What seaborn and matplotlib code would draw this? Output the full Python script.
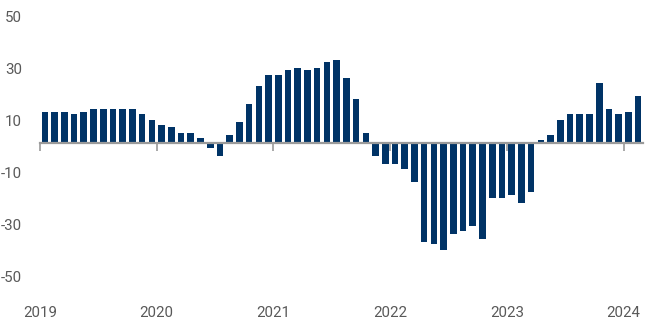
"""plot.py"""

import matplotlib

matplotlib.use("Agg")
import matplotlib.pyplot as plt
import matplotlib.transforms as mtransforms
import pandas as pd
import seaborn as sns

# monthly values, Jan 2019 .. Feb 2024
values = [
    12, 12, 12, 11, 12, 13, 13, 13, 13, 13, 11, 9,
    7, 6, 4, 4, 2, -2, -5, 3, 8, 15, 22, 26,
    26, 28, 29, 28, 29, 31, 32, 25, 17, 4, -5, -8,
    -8, -10, -15, -38, -39, -41, -35, -34, -32, -37, -21, -21,
    -20, -23, -19, 1, 3, 9, 11, 11, 11, 23, 13, 11,
    12, 18,
]
year_labels = ["2019", "2020", "2021", "2022", "2023", "2024"]
y_ticks = [50, 30, 10, -10, -30, -50]

BAR_COLOR = "#003366"
AXIS_COLOR = "#9a9a9a"
TEXT_COLOR = "#595959"


def main():
    """main function"""
    df = pd.DataFrame({"month": [i + 0.5 for i in range(len(values))], "value": values})

    sns.set_style("white")
    plt.rcParams["font.family"] = ["Roboto", "DejaVu Sans"]

    fig = plt.figure(figsize=(6.5, 3.29), dpi=100)
    ax = fig.add_axes([40 / 650, 30 / 329, 603 / 650, 299 / 329])

    sns.barplot(
        data=df,
        x="month",
        y="value",
        native_scale=True,
        width=0.68,
        color=BAR_COLOR,
        saturation=1,
        linewidth=0,
        ax=ax,
    )

    ax.set_xlim(0, 62)
    ax.set_ylim(-60, 55)
    ax.set_xlabel("")
    ax.set_ylabel("")

    # zero line with year ticks hanging below it
    for side in ["top", "right", "left"]:
        ax.spines[side].set_visible(False)
    ax.spines["bottom"].set_position(("data", 0))
    ax.spines["bottom"].set_color(AXIS_COLOR)
    ax.spines["bottom"].set_linewidth(1.6)
    ax.spines["bottom"].set_zorder(5)
    year_pos = [12 * i for i in range(len(year_labels))]
    ax.set_xticks(year_pos)
    ax.set_xticklabels([])
    ax.tick_params(axis="x", bottom=True, direction="out", length=6, width=1.2, color=AXIS_COLOR)

    # year labels along the bottom
    sec = ax.secondary_xaxis("bottom")
    sec.set_xticks(year_pos)
    sec.set_xticklabels(year_labels)
    sec.spines["bottom"].set_visible(False)
    sec.tick_params(axis="x", length=0, pad=5, labelsize=10.8, labelcolor=TEXT_COLOR)

    ax.set_yticks(y_ticks)
    ax.set_yticklabels([str(v) for v in y_ticks])
    ax.tick_params(axis="y", length=0, pad=13, labelsize=10.8, labelcolor=TEXT_COLOR)
    shift = mtransforms.ScaledTranslation(0, -3 / 100, fig.dpi_scale_trans)
    for label in ax.get_yticklabels():
        label.set_transform(label.get_transform() + shift)

    fig.savefig("out.png", dpi=100)


if __name__ == "__main__":
    main()
